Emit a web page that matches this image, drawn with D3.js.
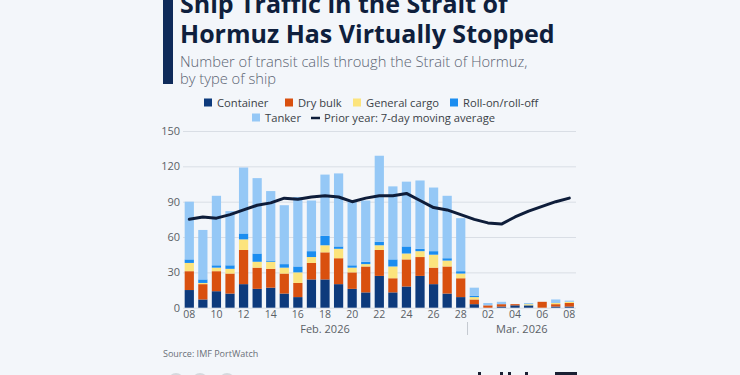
<!DOCTYPE html>
<html>
<head>
<meta charset="utf-8">
<script src="https://cdn.jsdelivr.net/npm/d3@7"></script>
<style>
  body { margin: 0; background: #f3f6fa; }
  svg { display: block; font-family: "Open Sans", sans-serif; }
</style>
</head>
<body>
<div id="chart"></div>
<script>
// data
const days = [
  "2026-02-08", "2026-02-09", "2026-02-10", "2026-02-11", "2026-02-12", "2026-02-13", "2026-02-14",
  "2026-02-15", "2026-02-16", "2026-02-17", "2026-02-18", "2026-02-19", "2026-02-20", "2026-02-21",
  "2026-02-22", "2026-02-23", "2026-02-24", "2026-02-25", "2026-02-26", "2026-02-27", "2026-02-28",
  "2026-03-01", "2026-03-02", "2026-03-03", "2026-03-04", "2026-03-05", "2026-03-06", "2026-03-07", "2026-03-08"
];
const container    = [15, 7, 14, 12, 20, 16, 17, 12, 9, 24, 24, 20, 16, 13, 27, 13, 18, 27, 20, 12, 9, 3, 0, 1, 2, 2, 0, 1, 1];
const dryBulk      = [16, 13, 17, 17, 29, 18, 16, 17, 12, 14, 23, 22, 14, 22, 22, 12, 23, 16, 14, 23, 16, 4, 2, 2, 1, 0, 5, 2, 3];
const generalCargo = [7, 1, 3, 4, 9, 5, 6, 5, 9, 5, 6, 8, 4, 2, 4, 10, 5, 5, 11, 5, 4, 2, 0, 0, 0, 1, 0, 1, 1];
const roRo         = [3, 3, 2, 3, 5, 7, 1, 3, 5, 5, 8, 2, 2, 2, 3, 6, 6, 2, 3, 2, 2, 1, 0, 0, 0, 0, 0, 0, 0];
const tanker       = [49, 42, 59, 46, 56, 64, 59, 50, 59, 43, 52, 62, 54, 52, 73, 62, 55, 58, 54, 53, 45, 7, 2, 2, 0, 1, 0, 3, 1];
const priorYear    = [75, 77, 76, 79, 83, 87, 89, 93, 92, 94, 95, 94, 90, 93, 95, 95, 97, 91, 85, 83, 79,
                      75, 72, 71, 77, 82, 86, 90, 93];
const yTicks = [0, 30, 60, 90, 120, 150];

const seriesNames = ["Container", "Dry bulk", "General cargo", "Roll-on/roll-off", "Tanker"];
const seriesColors = ["#0d3a7c", "#d9500f", "#fce47d", "#1b8df0", "#95c8f6"];
const lineColor = "#0e1d3a";

const width = 740, height = 375;
const parse = d3.timeParse("%Y-%m-%d");

const rows = days.map((d, i) => ({
  day: d,
  "Container": container[i],
  "Dry bulk": dryBulk[i],
  "General cargo": generalCargo[i],
  "Roll-on/roll-off": roRo[i],
  "Tanker": tanker[i],
  prior: priorYear[i]
}));

const svg = d3.select("#chart").append("svg")
  .attr("width", width)
  .attr("height", height);

svg.append("rect").attr("width", width).attr("height", height).attr("fill", "#f3f6fa");

// title block
svg.append("rect").attr("x", 163).attr("y", 0).attr("width", 10).attr("height", 84).attr("fill", "#0f2b5a");

const title = svg.append("text")
  .attr("x", 180)
  .attr("fill", "#0f1f3d")
  .style("font-weight", 700)
  .style("font-size", "25px");
title.append("tspan").attr("x", 180).attr("y", 13).text("Ship Traffic in the Strait of");
title.append("tspan").attr("x", 180).attr("y", 43).text("Hormuz Has Virtually Stopped");

const sub = svg.append("text")
  .attr("fill", "#5b6472")
  .style("font-size", "14.7px")
  .style("font-weight", 300);
sub.append("tspan").attr("x", 180).attr("y", 67).text("Number of transit calls through the Strait of Hormuz,");
sub.append("tspan").attr("x", 180).attr("y", 84).text("by type of ship");

// scales
const x = d3.scaleBand()
  .domain(days)
  .range([182.5, 576.1])
  .paddingInner(0.32)
  .paddingOuter(0.16);

const y = d3.scaleLinear()
  .domain([0, 150])
  .range([307.7, 131]);

// gridlines + y labels
const yAxis = svg.append("g")
  .attr("transform", "translate(576,0)")
  .call(d3.axisLeft(y).tickValues(yTicks).tickSize(393).tickPadding(3));
yAxis.select(".domain").remove();
yAxis.selectAll(".tick line").attr("stroke", "#d9dee5").attr("stroke-width", 1);
yAxis.selectAll(".tick text").attr("fill", "#5a5f66").style("font-size", "11px").style("font-family", "Open Sans, sans-serif");

// stacked bars
const stack = d3.stack().keys(seriesNames);
const layers = stack(rows);

svg.append("g")
  .selectAll("g")
  .data(layers)
  .join("g")
  .attr("fill", (d, i) => seriesColors[i])
  .selectAll("rect")
  .data(d => d)
  .join("rect")
  .attr("x", d => x(d.data.day))
  .attr("width", x.bandwidth())
  .attr("y", d => y(d[1]))
  .attr("height", d => y(d[0]) - y(d[1]));

// prior year line
const line = d3.line()
  .x(d => x(d.day) + x.bandwidth() / 2)
  .y(d => y(d.prior));

svg.append("path")
  .datum(rows)
  .attr("fill", "none")
  .attr("stroke", lineColor)
  .attr("stroke-width", 3)
  .attr("stroke-linejoin", "round")
  .attr("stroke-linecap", "round")
  .attr("d", line);

// x axis
const xAxis = svg.append("g")
  .attr("transform", "translate(0,308)")
  .call(d3.axisBottom(x)
    .tickValues(days.filter((d, i) => i % 2 === 0))
    .tickFormat(d => d3.timeFormat("%d")(parse(d)))
    .tickSize(0)
    .tickPadding(3));
xAxis.select(".domain").remove();
xAxis.selectAll(".tick text").attr("fill", "#5a5f66").style("font-size", "10.5px").style("font-family", "Open Sans, sans-serif");

// month labels
const feb = days.filter(d => d.startsWith("2026-02"));
const mar = days.filter(d => d.startsWith("2026-03"));
const mid = arr => (x(arr[0]) + x(arr[arr.length - 1]) + x.bandwidth()) / 2;
svg.append("text").attr("x", mid(feb)).attr("y", 333).attr("text-anchor", "middle")
  .attr("fill", "#5a5f66").style("font-size", "11px").text("Feb. 2026");
svg.append("text").attr("x", mid(mar)).attr("y", 333).attr("text-anchor", "middle")
  .attr("fill", "#5a5f66").style("font-size", "11px").text("Mar. 2026");
const sepX = (x(feb[feb.length - 1]) + x.bandwidth() + x(mar[0])) / 2;
svg.append("line").attr("x1", sepX).attr("x2", sepX).attr("y1", 322).attr("y2", 335)
  .attr("stroke", "#c5cad1").attr("stroke-width", 1);

// legend
const legend1 = [
  { name: "Container", x: 204 },
  { name: "Dry bulk", x: 285 },
  { name: "General cargo", x: 353 },
  { name: "Roll-on/roll-off", x: 450 }
];
const legend2 = [{ name: "Tanker", x: 252 }];

const lg = svg.append("g").style("font-size", "11.2px");
[[legend1, 103], [legend2, 118]].forEach(([items, ly]) => {
  items.forEach(it => {
    lg.append("rect").attr("x", it.x).attr("y", ly - 4.5).attr("width", 8).attr("height", 8)
      .attr("fill", seriesColors[seriesNames.indexOf(it.name)]);
    lg.append("text").attr("x", it.x + 13).attr("y", ly + 4).attr("fill", "#3a3f47").text(it.name);
  });
});
lg.append("line").attr("x1", 311).attr("x2", 320).attr("y1", 118).attr("y2", 118)
  .attr("stroke", lineColor).attr("stroke-width", 2.5);
lg.append("text").attr("x", 324).attr("y", 122).attr("fill", "#3a3f47").text("Prior year: 7-day moving average");

// source
svg.append("text").attr("x", 163).attr("y", 357).attr("fill", "#6b7078")
  .style("font-size", "9px").text("Source: IMF PortWatch");

// cropped footer icons
svg.append("g").selectAll("circle").data([176, 200, 227]).join("circle")
  .attr("cx", d => d).attr("cy", 381).attr("r", 8).attr("fill", "#d5d9de");
svg.append("g").attr("fill", "#1a2033").selectAll("rect")
  .data([[478, 3], [500, 3], [508, 3], [525, 3], [555, 22]]).join("rect")
  .attr("x", d => d[0]).attr("y", 372).attr("width", d => d[1]).attr("height", 3);
</script>
</body>
</html>
